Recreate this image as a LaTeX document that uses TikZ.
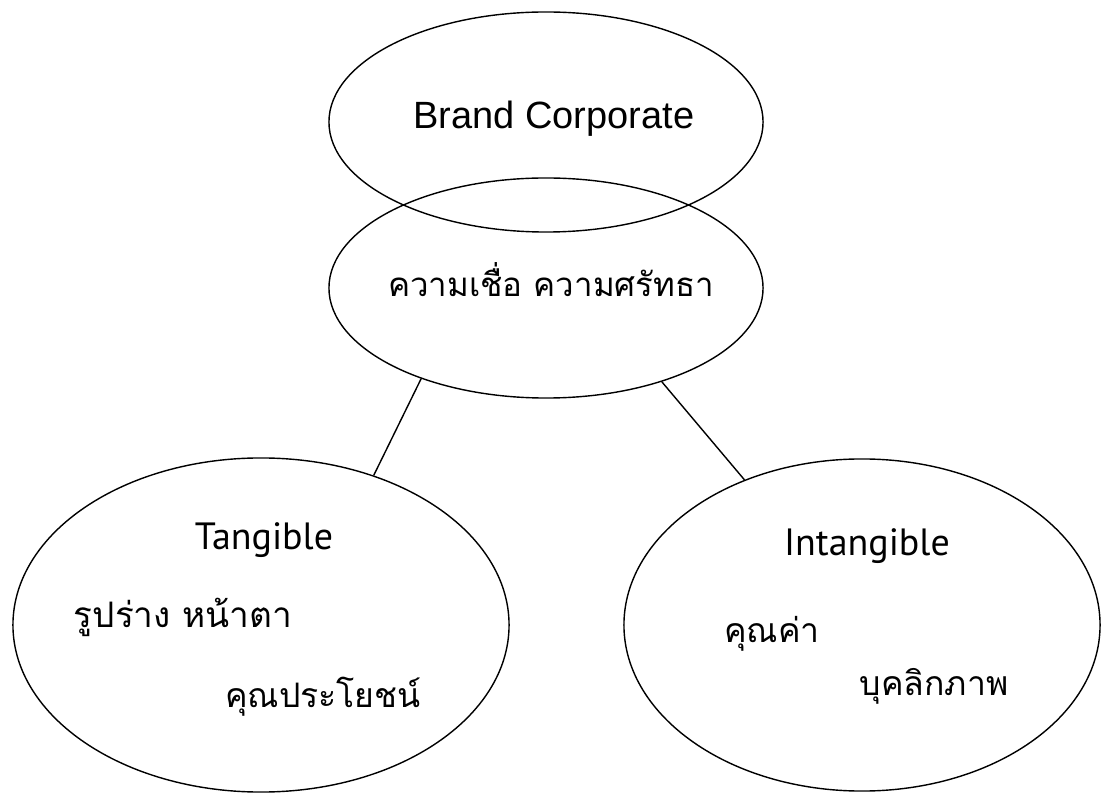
\documentclass[tikz,border=0pt]{standalone}
\usepackage{fontspec}
\setmainfont{Liberation Sans}
\newfontfamily\thaifont[Script=Thai]{Loma}
\newfontfamily\humanist{PT Sans}
\usepackage{tikz}
\usetikzlibrary{shapes.geometric}
\tikzstyle{Bubble}=[ellipse, draw=black, line width=1pt, inner sep=0pt]
\tikzstyle{Word}=[inner sep=0pt, anchor=base]

\begin{document}
\begin{tikzpicture}[x=0.025cm, y=-0.025cm]
    \useasboundingbox (0,0) rectangle (1106,793);
    \path
    (546,122) node[Bubble, minimum width=10.85cm, minimum height=5.5cm] (brand) {}
    (546,288) node[Bubble, minimum width=10.85cm, minimum height=5.5cm] (belief) {}
    (261,625) node[Bubble, minimum width=12.4cm, minimum height=8.35cm] (tang) {}
    (862,625) node[Bubble, minimum width=11.9cm, minimum height=8.3cm] (intang) {};

    \path (554,129) node[Word, font=\fontsize{27}{30}\selectfont] (brandtxt) {Brand Corporate}
    (551,297) node[Word, font=\thaifont\fontsize{23.5}{28}\selectfont] (belieftxt) {ความเชื่อ ความศรัทธา}
    (264,550) node[Word, font=\humanist\fontsize{27}{30}\selectfont] (tangtxt) {Tangible}
    (183,627) node[Word, font=\thaifont\fontsize{25}{30}\selectfont] (shape) {รูปร่าง หน้าตา}
    (323,707) node[Word, font=\thaifont\fontsize{24}{30}\selectfont] (benefit) {คุณประโยชน์}
    (867,555) node[Word, font=\humanist\fontsize{27}{30}\selectfont] (intangtxt) {Intangible}
    (772,642) node[Word, font=\thaifont\fontsize{24}{30}\selectfont] (value) {คุณค่า}
    (934,695) node[Word, font=\thaifont\fontsize{24}{30}\selectfont] (persona) {บุคลิกภาพ};

    \draw[line width=1pt] (belief.216) -- (tang.53);
    \draw[line width=1pt] (belief.321.5) -- (intang.129.7);
\end{tikzpicture}
\end{document}
